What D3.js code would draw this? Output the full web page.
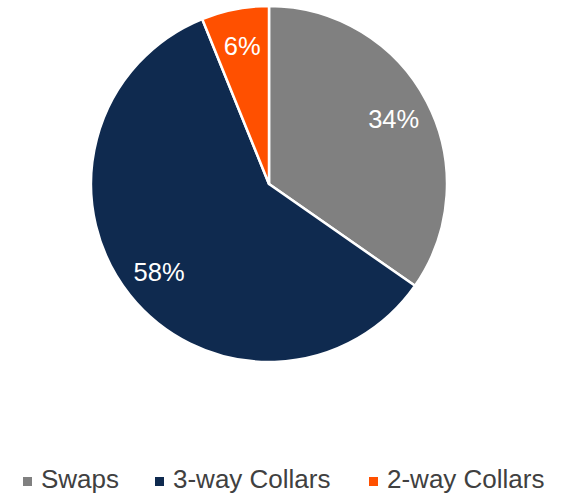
<!DOCTYPE html>
<html>
<head>
<meta charset="utf-8">
<script src="https://cdn.jsdelivr.net/npm/d3@7"></script>
<style>
  html, body { margin: 0; padding: 0; background: #fff; }
  svg { display: block; font-family: "Liberation Sans", Arial, sans-serif; }
</style>
</head>
<body>
<svg id="chart" width="561" height="496"></svg>
<script>
// Hedge mix by instrument type (percent of volumes)
const categories = ["Swaps", "3-way Collars", "2-way Collars"];
const values = [34, 58, 6];
const colors = ["#808080", "#0F2A4F", "#FF5000"];

const svg = d3.select("#chart");
const cx = 269, cy = 184, radius = 178;

const pie = d3.pie().sort(null).value(d => d.value);
const data = categories.map((c, i) => ({ name: c, value: values[i], color: colors[i] }));
const arcs = pie(data);

const arc = d3.arc().innerRadius(0).outerRadius(radius);
const labelArc = d3.arc().innerRadius(radius * 0.79).outerRadius(radius * 0.79);

const g = svg.append("g").attr("transform", `translate(${cx},${cy})`);

g.selectAll("path.slice")
  .data(arcs)
  .join("path")
  .attr("class", "slice")
  .attr("d", arc)
  .attr("fill", d => d.data.color)
  .attr("stroke", "#ffffff")
  .attr("stroke-width", 2.5)
  .attr("stroke-linejoin", "round");

g.selectAll("text.pct")
  .data(arcs)
  .join("text")
  .attr("class", "pct")
  .attr("transform", d => `translate(${labelArc.centroid(d)})`)
  .attr("text-anchor", "middle")
  .attr("dy", "0.36em")
  .attr("fill", "#ffffff")
  .attr("font-size", 25.5)
  .text(d => d.data.value + "%");

// Legend along the bottom (group origin sits on the text baseline)
const legendX = d3.scaleOrdinal().domain(categories).range([23, 155, 369]);
const legend = svg.append("g").attr("transform", "translate(0,488)");
const items = legend.selectAll("g.item")
  .data(data)
  .join("g")
  .attr("class", "item")
  .attr("transform", d => `translate(${legendX(d.name)},0)`);

items.append("rect")
  .attr("x", 0).attr("y", -11)
  .attr("width", 9).attr("height", 9)
  .attr("fill", d => d.color);

items.append("text")
  .attr("x", 18)
  .attr("fill", "#404040")
  .attr("font-size", 26)
  .text(d => d.name);
</script>
</body>
</html>
